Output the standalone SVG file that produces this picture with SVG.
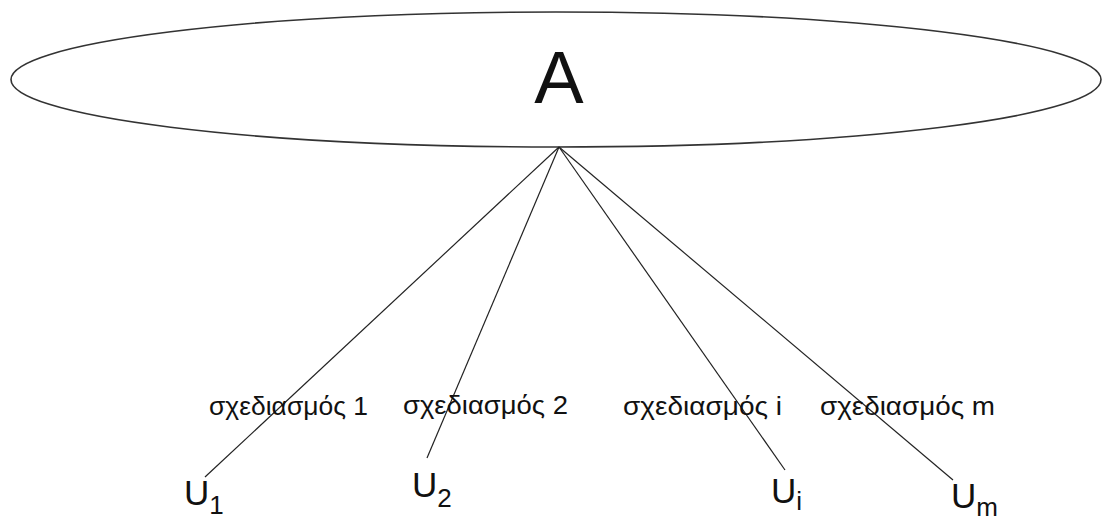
<svg xmlns="http://www.w3.org/2000/svg" width="1103" height="520" viewBox="0 0 1103 520">
<style>
.lbl{font-family:"Liberation Sans",Arial,sans-serif;font-size:26px;fill:#111}
.u{font-family:"Liberation Sans",Arial,sans-serif;font-size:35px;fill:#111}
.sub{font-size:26px}
.edge{stroke:#222;stroke-width:1.2;fill:none}
</style>
<rect width="1103" height="520" fill="#fff"/>
<g id="nodeA">
<ellipse cx="556" cy="79.5" rx="545" ry="67.5" fill="none" stroke="#333" stroke-width="1.6"/>
<text x="559" y="103" text-anchor="middle" font-family="'Liberation Sans',Arial,sans-serif" font-size="74" fill="#111">A</text>
</g>
<g id="connectors">
<line class="edge" x1="559" y1="147" x2="205" y2="477"/>
<line class="edge" x1="559" y1="147" x2="427" y2="458"/>
<line class="edge" x1="559" y1="147" x2="785" y2="470"/>
<line class="edge" x1="559" y1="147" x2="953" y2="480"/>
</g>
<g id="labels">
<text class="lbl" x="209" y="415" textLength="159" lengthAdjust="spacingAndGlyphs">σχεδιασμός 1</text>
<text class="lbl" x="403" y="414" textLength="165" lengthAdjust="spacingAndGlyphs">σχεδιασμός 2</text>
<text class="lbl" x="623" y="415" textLength="159" lengthAdjust="spacingAndGlyphs">σχεδιασμός i</text>
<text class="lbl" x="820" y="415" textLength="175" lengthAdjust="spacingAndGlyphs">σχεδιασμός m</text>
</g>
<g id="nodeU1"><text class="u" x="184" y="505">U<tspan class="sub" dy="9">1</tspan></text></g>
<g id="nodeU2"><text class="u" x="412" y="497">U<tspan class="sub" dy="10">2</tspan></text></g>
<g id="nodeUi"><text class="u" x="771" y="503">U<tspan class="sub" dy="7">i</tspan></text></g>
<g id="nodeUm"><text class="u" x="951" y="508">U<tspan class="sub" dy="8">m</tspan></text></g>
</svg>
